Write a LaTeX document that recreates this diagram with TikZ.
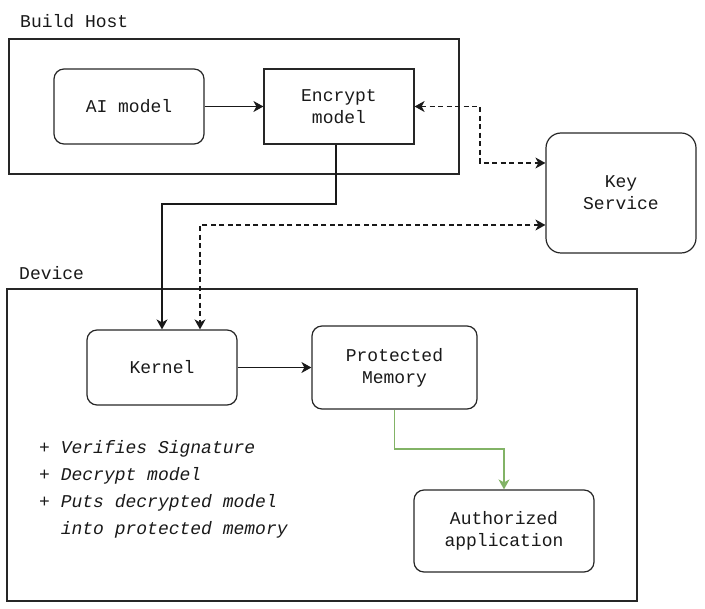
\documentclass[tikz,border=0pt]{standalone}
\usepackage{fontspec}
\setmainfont{Liberation Mono}
\usetikzlibrary{arrows.meta}
\begin{document}
\begin{tikzpicture}[x=1pt,y=-1pt,
  txt/.style={font=\fontsize{18}{22}\selectfont, text=black!90},
  frame/.style={draw=black!85, line width=1.2pt},
  rbox/.style={draw=black!85, line width=1.2pt, rounded corners=10pt, align=center, inner sep=0pt, txt},
  sbox/.style={draw=black!85, line width=1.2pt, align=center, inner sep=0pt, txt},
  lbl/.style={anchor=west, inner sep=0pt, txt},
  item/.style={anchor=west, inner sep=0pt, txt, text height=13pt, text depth=4pt},
  arr/.style={draw=black!90, line width=1.2pt, -{Stealth[length=10pt,width=11pt,inset=3pt]}},
  darr/.style={draw=black!90, line width=1.2pt, dash pattern=on 5pt off 3.5pt, {Stealth[length=10pt,width=11pt,inset=3pt]}-{Stealth[length=10pt,width=11pt,inset=3pt]}},
  garr/.style={draw={rgb,255:red,130;green,179;blue,102}, line width=1.2pt, -{Stealth[length=10pt,width=11pt,inset=3pt]}}
]
\useasboundingbox (0,0) rectangle (705,609);

% Build host frame
\draw[frame] (9,39) rectangle (459,174);
\node[lbl] (bhl) at (20,21) {Build Host};

% Device frame
\draw[frame] (7,289) rectangle (637,601);
\node[lbl] (dvl) at (19,273) {Device};

% Nodes
\node[rbox, minimum width=150pt, minimum height=75pt] (ai) at (129,106.5) {AI model};
\node[sbox, minimum width=150pt, minimum height=75pt] (enc) at (339,106.5) {Encrypt\\model};
\node[rbox, rounded corners=15pt, minimum width=150pt, minimum height=120pt] (key) at (621,193) {Key\\Service};
\node[rbox, minimum width=150pt, minimum height=75pt] (kern) at (162,367.5) {Kernel};
\node[rbox, minimum width=165pt, minimum height=83pt] (pm) at (394.5,367.5) {Protected\\Memory};
\node[rbox, minimum width=180pt, minimum height=82pt] (aa) at (504,531) {Authorized\\application};

% List
\node[item] (l1) at (39,449) {+ \textit{Verifies Signature}};
\node[item] (l2) at (39,476) {+ \textit{Decrypt model}};
\node[item] (l3) at (39,503) {+ \textit{Puts decrypted model}};
\node[item] (l4) at (39,530) {\phantom{+ }\textit{into protected memory}};

% Connectors
\draw[arr] (ai) -- (enc);
\draw[arr] ([xshift=-3pt]enc.south) -- ([xshift=-3pt]enc.south |- 0,204) -| (kern.north);
\draw[darr] (enc.east) -- (enc.east -| 480,0) |- ([yshift=30pt]key.west);
\draw[darr] ([yshift=-32pt]key.west) -| ([xshift=38pt]kern.north);
\draw[arr] (kern) -- (pm);
\draw[garr] (pm.south) -- (pm.south |- 0,449) -| (aa.north);
\end{tikzpicture}
\end{document}
